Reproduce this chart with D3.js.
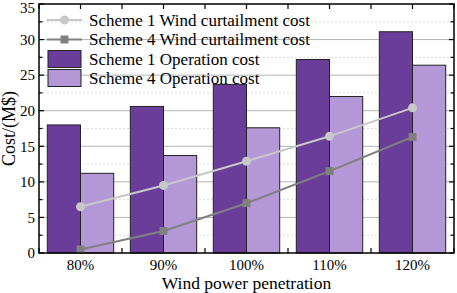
<!DOCTYPE html>
<html><head><meta charset="utf-8">
<script src="https://cdn.jsdelivr.net/npm/d3@7"></script>
<style>body{margin:0;background:#fff}svg{display:block}svg text{font-family:"Liberation Serif","DejaVu Serif",serif}</style>
</head><body>
<svg id="c" width="457" height="293"></svg>
<script>
const categories = ["80%","90%","100%","110%","120%"];
const opCost1 = [18.0, 20.6, 23.7, 27.2, 31.1];
const opCost4 = [11.2, 13.7, 17.6, 22.0, 26.4];
const curt1 = [6.5, 9.5, 12.9, 16.4, 20.4];
const curt4 = [0.5, 3.1, 7.0, 11.5, 16.3];
const yTicks = [0,5,10,15,20,25,30,35];
const legendLabels = ["Scheme 1 Wind curtailment cost","Scheme 4 Wind curtailment cost","Scheme 1 Operation cost","Scheme 4 Operation cost"];

const svg = d3.select("#c");
const m = {l:39, r:3, t:4, b:40};
const W = 457, H = 293;
const x0 = m.l, x1 = W - m.r, yTop = m.t, yBot = H - m.b;
const c1 = "#6a3d9a", c4 = "#b497d6", l1 = "#c8c8c8", l4 = "#808080";

const y = d3.scaleLinear().domain([0,35]).range([yBot, yTop]);
const xb = d3.scaleBand().domain(categories).range([x0, x1]);
const center = d => xb(d) + xb.bandwidth()/2;
const bw = xb.bandwidth()*0.4;

// grid
const minor = d3.range(2.5, 35, 5);
svg.append("g").selectAll("line").data(minor).join("line")
  .attr("x1", x0).attr("x2", x1).attr("y1", d=>y(d)).attr("y2", d=>y(d))
  .attr("stroke", "#d0d0d0").attr("stroke-width", 0.8).attr("stroke-dasharray", "2,2");
svg.append("g").selectAll("line").data(yTicks.filter(v=>v>0&&v<35)).join("line")
  .attr("x1", x0).attr("x2", x1).attr("y1", d=>y(d)).attr("y2", d=>y(d))
  .attr("stroke", "#b4b4b4").attr("stroke-width", 1);

// x ticks (half-band) top and bottom, inward
const halfTicks = [];
categories.forEach(c => { halfTicks.push(xb(c)); halfTicks.push(center(c)); });
halfTicks.push(xb(categories[categories.length-1]) + xb.bandwidth());
const tx = svg.append("g");
halfTicks.forEach(v => {
  tx.append("line").attr("x1", v).attr("x2", v).attr("y1", yBot).attr("y2", yBot-5).attr("stroke","#000").attr("stroke-width",1.2);
  tx.append("line").attr("x1", v).attr("x2", v).attr("y1", yTop).attr("y2", yTop+5).attr("stroke","#000").attr("stroke-width",1.2);
});

// bars
const bars = svg.append("g");
bars.selectAll("rect.s1").data(categories).join("rect").attr("class","s1")
  .attr("x", d=>center(d)-bw).attr("width", bw)
  .attr("y", (d,i)=>y(opCost1[i])).attr("height", (d,i)=>y(0)-y(opCost1[i]))
  .attr("fill", c1).attr("stroke", "#222").attr("stroke-width", 1);
bars.selectAll("rect.s4").data(categories).join("rect").attr("class","s4")
  .attr("x", d=>center(d)).attr("width", bw)
  .attr("y", (d,i)=>y(opCost4[i])).attr("height", (d,i)=>y(0)-y(opCost4[i]))
  .attr("fill", c4).attr("stroke", "#222").attr("stroke-width", 1);

// lines
const line = d3.line().x((v,i)=>center(categories[i])).y(v=>y(v));
svg.append("path").datum(curt1).attr("d", line).attr("fill","none").attr("stroke", l1).attr("stroke-width", 2);
svg.append("path").datum(curt4).attr("d", line).attr("fill","none").attr("stroke", l4).attr("stroke-width", 2);
svg.append("g").selectAll("circle").data(curt1).join("circle")
  .attr("cx", (v,i)=>center(categories[i])).attr("cy", v=>y(v)).attr("r", 4.5).attr("fill", l1);
svg.append("g").selectAll("rect").data(curt4).join("rect")
  .attr("x", (v,i)=>center(categories[i])-4).attr("y", v=>y(v)-4).attr("width", 8).attr("height", 8).attr("fill", l4);

// y axes ticks inward
const ty = svg.append("g");
d3.range(0, 35.01, 2.5).forEach(v => {
  const len = (v % 5 === 0) ? 5 : 3.5;
  ty.append("line").attr("x1", x0).attr("x2", x0+len).attr("y1", y(v)).attr("y2", y(v)).attr("stroke","#000").attr("stroke-width",1.2);
  ty.append("line").attr("x1", x1).attr("x2", x1-len).attr("y1", y(v)).attr("y2", y(v)).attr("stroke","#000").attr("stroke-width",1.2);
});
// frame
svg.append("rect").attr("x", x0).attr("y", yTop).attr("width", x1-x0).attr("height", yBot-yTop)
  .attr("fill","none").attr("stroke","#000").attr("stroke-width",1.5);

// tick labels
svg.append("g").selectAll("text").data(yTicks).join("text")
  .attr("x", x0-4).attr("y", d=>Math.max(y(d), 8)).attr("dy","0.35em").attr("text-anchor","end")
  .style("font-size", "15px").text(d=>d);
svg.append("g").selectAll("text").data(categories).join("text")
  .attr("x", d=>center(d)).attr("y", yBot+17).attr("text-anchor","middle")
  .style("font-size", "15px").text(d=>d);

// axis titles
svg.append("text").attr("x", (x0+x1)/2).attr("y", H-4).attr("text-anchor","middle")
  .style("font-size", "17.5px").text("Wind power penetration");
svg.append("text").attr("transform", `translate(15,${(yTop+yBot)/2}) rotate(-90)`).attr("text-anchor","middle")
  .style("font-size", "18px").text("Cost/(M$)");

// legend
const lg = svg.append("g");
const rowY = [20, 39.5, 59, 78];
const lx0 = 47, lx1 = 82, ltx = 89;
lg.append("line").attr("x1",lx0).attr("x2",lx1).attr("y1",rowY[0]).attr("y2",rowY[0]).attr("stroke",l1).attr("stroke-width",2);
lg.append("circle").attr("cx",(lx0+lx1)/2).attr("cy",rowY[0]).attr("r",4.5).attr("fill",l1);
lg.append("line").attr("x1",lx0).attr("x2",lx1).attr("y1",rowY[1]).attr("y2",rowY[1]).attr("stroke",l4).attr("stroke-width",2);
lg.append("rect").attr("x",(lx0+lx1)/2-4).attr("y",rowY[1]-4).attr("width",8).attr("height",8).attr("fill",l4);
lg.append("rect").attr("x",lx0+1).attr("y",rowY[2]-8.5).attr("width",33).attr("height",17).attr("fill",c1).attr("stroke","#222");
lg.append("rect").attr("x",lx0+1).attr("y",rowY[3]-8.5).attr("width",33).attr("height",17).attr("fill",c4).attr("stroke","#222");
lg.selectAll("text").data(legendLabels).join("text")
  .attr("x", ltx).attr("y", (d,i)=>rowY[i]).attr("dy","0.35em")
  .style("font-size", "17px").text(d=>d);
</script>
</body></html>
